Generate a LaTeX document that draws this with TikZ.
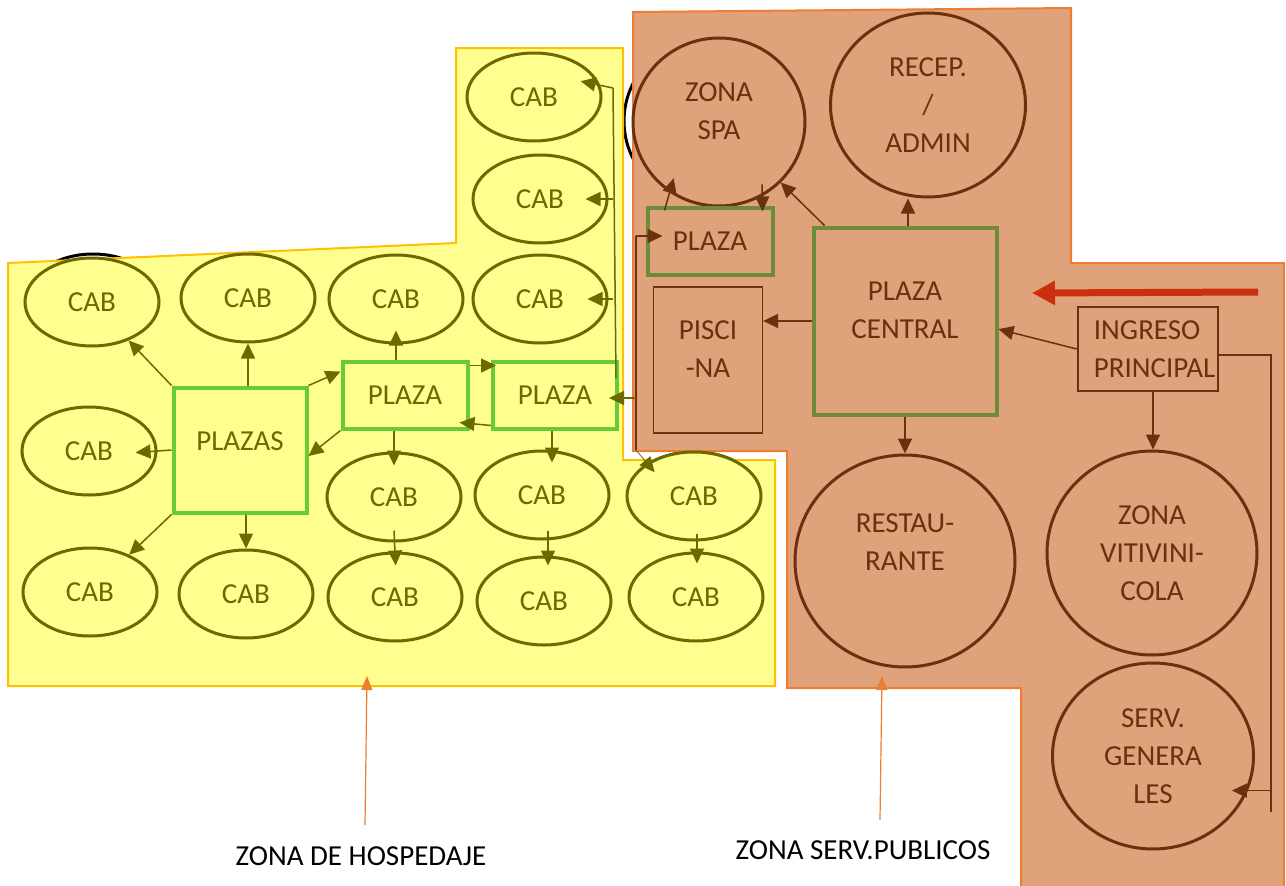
\documentclass[tikz,border=0pt]{standalone}
\usepackage{fontspec}
\setmainfont{Carlito}
\usetikzlibrary{arrows.meta,positioning,shapes.geometric}
\definecolor{cabfill}{HTML}{FFFF8F}
\definecolor{cabline}{HTML}{6B6900}
\definecolor{hospline}{HTML}{FFC000}
\definecolor{servfill}{HTML}{DFA27A}
\definecolor{servedge}{HTML}{ED7D31}
\definecolor{servline}{HTML}{6B300D}
\definecolor{plazagreen}{HTML}{66CC33}
\definecolor{plazadark}{HTML}{6E8B3A}
\definecolor{ingresored}{HTML}{C9310E}
\newcommand{\zonefont}{\fontsize{29}{38}\selectfont}
\tikzset{
  hospzone/.style={draw=hospline, line width=2pt, fill=cabfill},
  servzone/.style={draw=servedge, line width=2pt, fill=servfill},
  ghost/.style={draw=black, line width=3pt},
  cabnode/.style={ellipse, draw=cabline, line width=3pt, fill=cabfill, minimum width=134pt, minimum height=88pt, inner sep=0pt, text=cabline},
  plazabox/.style={draw=plazagreen, line width=4pt, fill=cabfill, inner sep=0pt, text=cabline},
  plazacbox/.style={draw=plazadark, line width=4pt, fill=servfill, inner sep=0pt, text=servline},
  servround/.style={ellipse, draw=servline, line width=3pt, fill=servfill, inner sep=0pt, text=servline, align=center},
  servbox/.style={draw=servline, line width=1.3pt, fill=servfill, inner sep=0pt, text=servline, align=center},
  ingbox/.style={draw=servline, line width=2.6pt, fill=servfill, inner sep=0pt},
  servtext/.style={text=servline, align=center, inner sep=0pt},
  zonelabel/.style={text=black, inner sep=0pt},
  oarr/.style={draw=cabline, line width=1.5pt, -{Triangle[length=15pt,width=14pt]}},
  barr/.style={draw=servline, line width=1.5pt, -{Triangle[length=15pt,width=14pt]}},
  oline/.style={draw=cabline, line width=1.5pt},
  bline/.style={draw=servline, line width=1.5pt},
  redarr/.style={draw=ingresored, line width=7pt, -{Triangle[length=23pt,width=23pt]}},
  zarr/.style={draw=servedge, line width=1.2pt, -{Triangle[length=14pt,width=11pt]}},
}
\begin{document}
\begin{tikzpicture}[x=1pt,y=-1pt,font=\zonefont]
  \useasboundingbox (0,0) rectangle (1286,886);
  % outlines left under the zones
  \draw[ghost] (710,121) ellipse [x radius=86pt, y radius=84pt];
  \draw[ghost] (93,300) ellipse [x radius=67pt, y radius=46pt];
  \draw[ghost] (694,497) ellipse [x radius=67pt, y radius=45pt];

  \draw[hospzone] (8,263) -- (456,243) -- (456,48) -- (623,48) -- (623,460)
    -- (775,460) -- (775,686) -- (8,686) -- cycle;
  \draw[servzone] (633,12) -- (1071,8) -- (1071,263) -- (1284,263) -- (1284,892)
    -- (1021,892) -- (1021,688) -- (787,688) -- (787,451) -- (633,451) -- cycle;

  % hospedaje
  \node[cabnode] (cabT1) at (534,97)  {CAB};
  \node[cabnode] (cabT2) at (540,199) {CAB};
  \node[cabnode] (cabA1) at (92,302)  {CAB};
  \node[cabnode] (cabA2) at (248,298) {CAB};
  \node[cabnode] (cabA3) at (396,299) {CAB};
  \node[cabnode] (cabA4) at (540,299) {CAB};
  \node[cabnode] (cabL)  at (89,451)  {CAB};
  \node[cabnode] (cabM3) at (394,497) {CAB};
  \node[cabnode] (cabM4) at (542,495) {CAB};
  \node[cabnode] (cabM5) at (694,496) {CAB};
  \node[cabnode] (cabB1) at (90,592)  {CAB};
  \node[cabnode] (cabB2) at (246,594) {CAB};
  \node[cabnode] (cabB3) at (395,597) {CAB};
  \node[cabnode] (cabB4) at (544,601) {CAB};
  \node[cabnode] (cabB5) at (696,597) {CAB};

  \node[plazabox, minimum width=133pt, minimum height=125pt,
    label={[text=cabline, inner sep=0pt, yshift=9pt]center:PLAZAS}] (plazas) at (240,450) {};
  \node[plazabox, minimum width=125pt, minimum height=67pt] (plazaA) at (405,395) {PLAZA};
  \node[plazabox, minimum width=124pt, minimum height=67pt] (plazaB) at (555,395) {PLAZA};

  % servicios
  \node[servround, minimum width=172pt, minimum height=168pt,
    label={[servtext, yshift=11pt]center:ZONA\\SPA}] (spa) at (719,122) {};
  \node[servround, minimum width=195pt, minimum height=184pt] (recep) at (928,105) {RECEP.\\/\\ADMIN};
  \node[plazacbox, minimum width=125pt, minimum height=67pt] (plazaS) at (710,241) {PLAZA};
  \node[servbox, minimum width=109pt, minimum height=146pt,
    label={[servtext, yshift=11pt]center:PISCI\\-NA}] (pisc) at (708,360) {};
  \node[plazacbox, minimum width=183pt, minimum height=187pt,
    label={[servtext, yshift=11pt]center:PLAZA\\CENTRAL}] (central) at (905,321) {};
  \node[ingbox, minimum width=140pt, minimum height=84pt,
    label={[servtext, align=left, anchor=west, xshift=17pt]west:INGRESO\\PRINCIPAL}] (ingreso) at (1148,349) {};
  \node[servround, minimum width=220pt, minimum height=212pt,
    label={[servtext, yshift=19pt]center:RESTAU-\\RANTE}] (resto) at (905,561) {};
  \node[servround, minimum width=210pt, minimum height=204pt] (viti) at (1152,553) {ZONA\\VITIVINI-\\COLA};
  \node[servround, minimum width=201pt, minimum height=186pt] (serv) at (1153,756) {SERV.\\GENERA\\LES};

  \node[zonelabel] (hosplab) at (361,856) {ZONA DE HOSPEDAJE};
  \node[zonelabel] (servlab) at (863,850) {ZONA SERV.PUBLICOS};

  % hospedaje links
  \draw[oarr] (plazas.north west) -- (cabA1);
  \draw[oarr] (plazas.north -| cabA2) -- (cabA2.south);
  \draw[oarr, shorten >=-22pt] (plazas.west) -- (cabL.east);
  \draw[oarr] (plazas.south west) -- (cabB1);
  \draw[oarr] (plazas.south -| cabB2) -- (cabB2.north);
  \draw[oarr] (plazas.north east) -- (plazaA.160);
  \draw[oarr] (plazaA.south west) -- (plazas.-5);
  \draw[oarr, shorten >=-14pt] (plazaA.north -| cabA3) -- (cabA3.south);
  \draw[oarr] ([yshift=-6pt]plazaA.north east) -- ([yshift=-6pt,xshift=5pt]plazaB.north west);
  \draw[oarr] ([yshift=5pt]plazaB.south west) -- ([xshift=-10pt,yshift=8pt]plazaA.south east);
  \draw[oarr, shorten >=-14pt] (plazaA.south -| cabM3) -- (cabM3.north);
  \draw[oarr, shorten >=-13pt] ([xshift=-3pt]plazaB.south) -- ([xshift=-3pt]plazaB.south |- cabM4.north);
  \draw[oarr, shorten >=-14pt] ([yshift=12pt]cabM3.south) -- (cabB3.north);
  \draw[oarr, shorten >=-10pt] ([xshift=6pt,yshift=10pt]cabM4.south) -- ([xshift=4pt]cabB4.north);
  \draw[oarr, shorten >=-12pt] ([xshift=3pt,yshift=8pt]cabM5.south) -- ([xshift=1pt]cabB5.north);

  \coordinate (railT) at (613,88);
  \coordinate (railB) at (616,378);
  \draw[oline] (railT) -- (railB);
  \draw[oarr, shorten >=-20pt] (railT) -- (cabT1.10);
  \draw[oarr, shorten >=-23pt] (railT |- cabT2.east) -- (cabT2.east);
  \draw[oarr, shorten >=-21pt] (railT |- cabA4.east) -- (cabA4.east);

  \coordinate (linkT) at (636,236);
  \coordinate (linkB) at (636,450);
  \draw[bline] (linkT) -- (linkB);
  \draw[barr, shorten >=-17pt] (linkT) -- (linkT -| plazaS.west);
  \draw[oarr, shorten >=-10pt] ([yshift=-3pt]linkB |- plazaB.east) -- ([yshift=-3pt]plazaB.east);
  \draw[oarr, line width=0.8pt, shorten >=-12pt] (linkB) -- (cabM5.145);

  % servicios links
  \draw[barr, shorten >=-15pt] ([xshift=19pt,yshift=-5pt]plazaS.north west) -- (spa.235);
  \draw[barr] ([yshift=12pt]spa.300) -- ([xshift=-12pt,yshift=-6pt]plazaS.north east);
  \draw[barr] ([xshift=13pt]central.north west) -- (spa);
  \draw[barr] ([xshift=3pt]central.north) -- ([xshift=3pt]central.north |- recep.south);
  \draw[barr] (central.west) -- (central.west -| pisc.east);
  \draw[barr] (central.south) -- (central.south |- resto.north);
  \draw[barr] (ingreso.west) -- (central.-5);
  \draw[barr] ([xshift=5pt]ingreso.south) -- ([xshift=5pt]ingreso.south |- viti.north);

  \coordinate (servT) at (1271,355);
  \coordinate (servB) at (1271,812);
  \draw[bline] ([yshift=-6pt]ingreso.east) -- (servT) -- (servB);
  \draw[barr, shorten >=-16pt] (servB |- serv.-20) -- (serv.-20);

  \coordinate (entryS) at (1258,292);
  \coordinate (entryE) at (1032,293);
  \draw[redarr] (entryS) -- (entryE);

  \coordinate (hospFoot) at (365,825);
  \coordinate (hospTip) at (367,676);
  \draw[zarr] (hospFoot) -- (hospTip);
  \coordinate (servFoot) at (880,820);
  \coordinate (servTip) at (882,676);
  \draw[zarr] (servFoot) -- (servTip);
\end{tikzpicture}
\end{document}
